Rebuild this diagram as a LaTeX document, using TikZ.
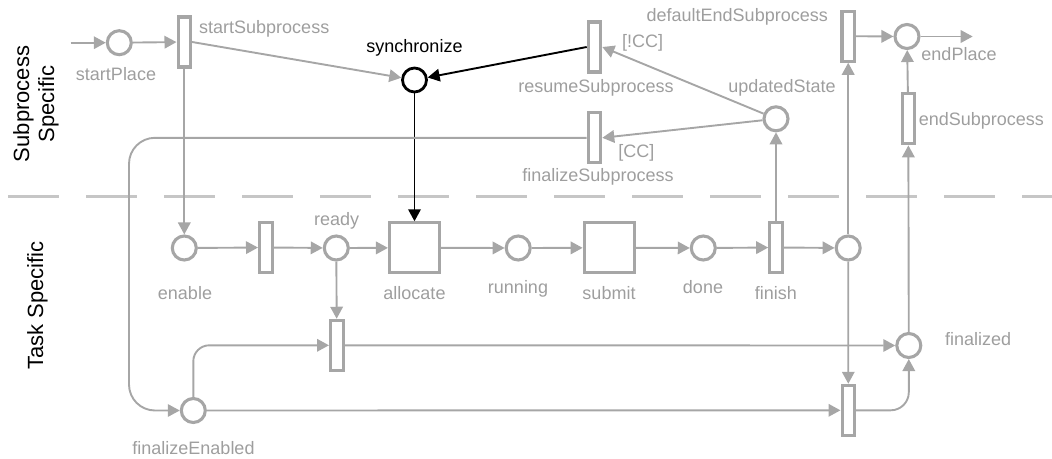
\documentclass[tikz,border=0pt]{standalone}
\usepackage{fontspec}
\setmainfont{Liberation Sans}
\usetikzlibrary{arrows.meta}
\definecolor{pgray}{RGB}{166,166,166}
\definecolor{tgray}{RGB}{158,158,158}
\definecolor{dgray}{RGB}{198,198,198}

\begin{document}
\begin{tikzpicture}[x=1pt,y=-1pt,
  place/.style={circle,draw=pgray,line width=3.1pt,minimum size=24pt,inner sep=0pt},
  trans/.style={rectangle,draw=pgray,line width=3.1pt,minimum width=12.5pt,minimum height=50pt,inner sep=0pt},
  task/.style={rectangle,draw=pgray,line width=3.1pt,minimum size=50pt,inner sep=0pt},
  conn/.style={draw=pgray,line width=1.9pt,-{Triangle[length=12pt,width=12.5pt]}},
  blackconn/.style={draw=black,line width=1.9pt,-{Triangle[length=12pt,width=12.5pt]}},
  lbl/.style={text=tgray,font=\fontsize{18}{20}\selectfont,inner sep=0pt,anchor=base},
  lane/.style={text=black,font=\fontsize{22}{25}\selectfont,inner sep=0pt,rotate=90,align=center},
  divider/.style={draw=dgray,line width=3.3pt,dash pattern=on 51pt off 27pt}
]
\useasboundingbox (0,0) rectangle (1052,458);

% lane separator
\coordinate (divL) at (8,196.7);
\coordinate (divR) at (1052,196.7);
\draw[divider] (divL) -- (divR);

% lane titles
\node[lane] (laneSub) at (36,104) {Subprocess\\Specific};
\node[lane,anchor=base] (laneTask) at (43,305.7) {Task Specific};

% subprocess places and transitions
\node[place] (startPlace) at (119.3,42.7) {};
\node[trans] (startSub) at (184.3,42) {};
\node[place,draw=black,line width=2.8pt] (sync) at (414.5,80) {};
\node[trans] (resume) at (594.5,47) {};
\node[trans] (finalizeSub) at (594.5,137.8) {};
\node[place] (updated) at (776,118.8) {};
\node[trans] (defaultEnd) at (848.2,36.2) {};
\node[place] (endPlace) at (907,36.5) {};
\node[trans] (endSub) at (908.3,118.8) {};

% task places and transitions
\node[place] (enable) at (184.3,248) {};
\node[trans] (tEnable) at (265.8,247.5) {};
\node[place] (ready) at (336.3,248) {};
\node[task] (allocate) at (414.5,247.8) {};
\node[place] (running) at (518.2,248) {};
\node[task] (submit) at (609.2,247.8) {};
\node[place] (done) at (703.3,248) {};
\node[trans] (finish) at (776,247.5) {};
\node[place] (after) at (848.2,248) {};
\node[trans] (tFinA) at (336.8,345.3) {};
\node[place] (finalized) at (908.8,345.5) {};
\node[place] (finEnabled) at (193.3,410.5) {};
\node[trans] (tFinB) at (848.3,410.3) {};

% free ends and routing columns
\coordinate (inStart) at (70.7,42.7);
\coordinate (outEnd) at (972.7,36.5);
\coordinate (leftCol) at (129,0);

% labels
\node[lbl] (lStartPlace) at (116,80.7) {startPlace};
\node[lbl,anchor=base west] (lStartSub) at (199,33) {startSubprocess};
\node[lbl,text=black] (lSync) at (414.5,52) {synchronize};
\node[lbl] (lNotCC) at (642.5,47.7) {[!CC]};
\node[lbl] (lResume) at (596,92.7) {resumeSubprocess};
\node[lbl] (lCC) at (636.3,157.7) {[CC]};
\node[lbl] (lFinSub) at (598,181.7) {finalizeSubprocess};
\node[lbl] (lUpdated) at (782,92.7) {updatedState};
\node[lbl,anchor=base east] (lDefEnd) at (828,21) {defaultEndSubprocess};
\node[lbl] (lEndPlace) at (959,60) {endPlace};
\node[lbl,anchor=base west] (lEndSub) at (918.7,125) {endSubprocess};
\node[lbl] (lEnable) at (185,299.3) {enable};
\node[lbl] (lReady) at (336.7,225.3) {ready};
\node[lbl] (lAllocate) at (414.5,299.3) {allocate};
\node[lbl] (lRunning) at (518,293.3) {running};
\node[lbl] (lSubmit) at (609,299.3) {submit};
\node[lbl] (lDone) at (703,293.3) {done};
\node[lbl] (lFinish) at (775.8,299.3) {finish};
\node[lbl,anchor=base west] (lFinalized) at (945,345) {finalized};
\node[lbl] (lFinEnabled) at (193.5,454) {finalizeEnabled};

% subprocess arcs
\draw[conn] (inStart) -- (startPlace);
\draw[conn] (startPlace) -- (startSub);
\draw[conn] (startSub.east) -- (sync);
\draw[conn] (startSub) -- (enable);
\draw[blackconn] (resume.west) -- (sync);
\draw[blackconn] (sync) -- (allocate);
\draw[conn] (updated) -- (resume.east);
\draw[conn] (updated) -- (finalizeSub.east);
\draw[conn,rounded corners=26pt] (finalizeSub.west) -- (finalizeSub.west -| leftCol) -- (finEnabled -| leftCol) -- (finEnabled);
\draw[conn] (defaultEnd) -- (endPlace);
\draw[conn] (endPlace) -- (outEnd);
\draw[conn] (endSub) -- (endPlace);

% task arcs
\draw[conn] (enable) -- (tEnable);
\draw[conn] (tEnable) -- (ready);
\draw[conn] (ready) -- (allocate);
\draw[conn] (allocate) -- (running);
\draw[conn] (running) -- (submit);
\draw[conn] (submit) -- (done);
\draw[conn] (done) -- (finish);
\draw[conn] (finish) -- (after);
\draw[conn] (ready) -- (tFinA);
\draw[conn,rounded corners=16pt] (finEnabled) -- (finEnabled |- tFinA) -- (tFinA);
\draw[conn] (tFinA) -- (finalized);
\draw[conn] (finEnabled) -- (tFinB);
\draw[conn] (after) -- (tFinB);
\draw[conn,rounded corners=18pt] (tFinB) -- (tFinB -| finalized) -- (finalized);
\draw[conn] (finish) -- (updated);
\draw[conn] (after) -- (defaultEnd);
\draw[conn] (finalized) -- (endSub);
\end{tikzpicture}
\end{document}
